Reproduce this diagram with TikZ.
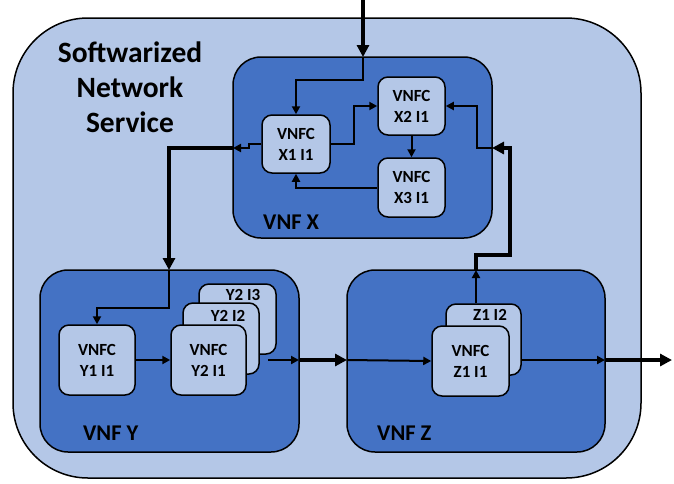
\documentclass[tikz,border=0pt]{standalone}
\usepackage{fontspec}
\setmainfont{Carlito}
\usetikzlibrary{arrows.meta}

\definecolor{paleblue}{HTML}{B4C7E7}
\definecolor{vnfblue}{HTML}{4472C4}

\tikzset{
  service/.style={draw=black, line width=1.5pt, fill=paleblue, rounded corners=75pt,
    inner sep=0pt},
  vnfbox/.style={draw=black, line width=1.5pt, fill=vnfblue, rounded corners=28pt,
    inner sep=0pt},
  vnfc/.style={draw=black, line width=1.5pt, fill=paleblue, rounded corners=10pt,
    inner sep=0pt, align=center, font=\bfseries\fontsize{17}{21}\selectfont},
  vnflabel/.style={anchor=west, inner sep=0pt, font=\bfseries\fontsize{22.5}{26}\selectfont},
  stacklabel/.style={inner sep=0pt, font=\bfseries\fontsize{17}{20}\selectfont},
  flowthin/.style={line width=2pt, -{Triangle[length=8pt,width=8pt]}},
  flowthick/.style={line width=3.5pt, -{Triangle[length=12pt,width=12pt]}},
}

\begin{document}
\begin{tikzpicture}[x=1pt, y=-1pt]
\useasboundingbox (0,0) rectangle (674,483);

% service frame and its title
\node[service, minimum width=628pt, minimum height=460pt] (ns) at (327,248) {};
\node[inner sep=0pt, align=center, font=\bfseries\fontsize{29.5}{35}\selectfont]
  (title) at (130,87) {Softwarized\\Network\\Service};

% the three network functions
\node[vnfbox, minimum width=259pt, minimum height=181pt] (vnfx) at (362.5,147.5) {};
\node[vnfbox, minimum width=259pt, minimum height=182pt] (vnfy) at (169.5,361) {};
\node[vnfbox, minimum width=258pt, minimum height=182pt] (vnfz) at (476,361) {};
\node[vnflabel] (lx) at (263,222) {VNF X};
\node[vnflabel] (ly) at (83,433) {VNF Y};
\node[vnflabel] (lz) at (377,433) {VNF Z};

% components of VNF X
\node[vnfc, minimum width=68pt, minimum height=58pt] (x1) at (296,144) {VNFC\\X1 I1};
\node[vnfc, minimum width=67pt, minimum height=58pt] (x2) at (411.5,106) {VNFC\\X2 I1};
\node[vnfc, minimum width=67pt, minimum height=59pt] (x3) at (411.5,187.5) {VNFC\\X3 I1};

% components of VNF Y (Y2 has three instances)
\node[vnfc, minimum width=76pt, minimum height=70pt] (y1) at (97,360) {VNFC\\Y1 I1};
\node[vnfc, minimum width=77pt, minimum height=70pt] (y2c) at (237.5,319) {};
\node[stacklabel] (ly2c) at (243,295) {Y2 I3};
\node[vnfc, minimum width=76pt, minimum height=71pt] (y2b) at (221,338.5) {};
\node[stacklabel] (ly2b) at (228,316) {Y2 I2};
\node[vnfc, minimum width=75pt, minimum height=70pt] (y2a) at (208.5,360) {VNFC\\Y2 I1};

% components of VNF Z (Z1 has two instances)
\node[vnfc, minimum width=75pt, minimum height=71pt] (z1b) at (483.5,339.5) {};
\node[stacklabel] (lz1b) at (490,315) {Z1 I2};
\node[vnfc, minimum width=77pt, minimum height=70pt] (z1a) at (470.5,361) {VNFC\\Z1 I1};

% ports and bends of the traffic path
\coordinate (src) at (363,0);
\coordinate (xin) at (363,57);
\coordinate (xleft) at (233,148);
\coordinate (yin) at (169,270);
\coordinate (ystart) at (268,360);
\coordinate (yout) at (299,360);
\coordinate (zin) at (347,360);
\coordinate (zout) at (605,360);
\coordinate (sink) at (672,360);
\coordinate (ztop) at (476,270);
\coordinate (xright) at (492,148);

% traffic entering VNF X
\draw[flowthick] (src) -- (xin);
\draw[flowthin] (xin) -- ++(0,23) -| (x1.north);
\draw[flowthin] (x1.east) -- ++(23,0) |- (x2.west);
\draw[flowthin] (x2.south) -- (x3.north);
\draw[flowthin] (x3.west) -| (x1.south);

% X -> Y
\draw[flowthin] (x1.west) -- ++(-12,0) |- (xleft);
\draw[flowthick] (xleft) -| (yin);
\draw[flowthin] (yin) -- ++(0,38) -| (y1.north);
\draw[flowthin] (y1.east) -- (y2a.west);

% Y -> Z
\draw[flowthin] (ystart) -- (yout);
\draw[flowthick] (yout) -- (zin);
\draw[flowthin] (zin) -- (z1a.west);

% Z -> out
\draw[flowthin] (z1b.east |- zout) -- (zout);
\draw[flowthick] (zout) -- (sink);

% Z -> back to X2
\draw[flowthin] (z1b.north -| ztop) -- (ztop);
\draw[flowthick] (ztop) -- ++(0,-15) -- ++(34,0) |- (xright);
\draw[flowthin] (xright) -- ++(-15,0) |- (x2.east);
\end{tikzpicture}
\end{document}
